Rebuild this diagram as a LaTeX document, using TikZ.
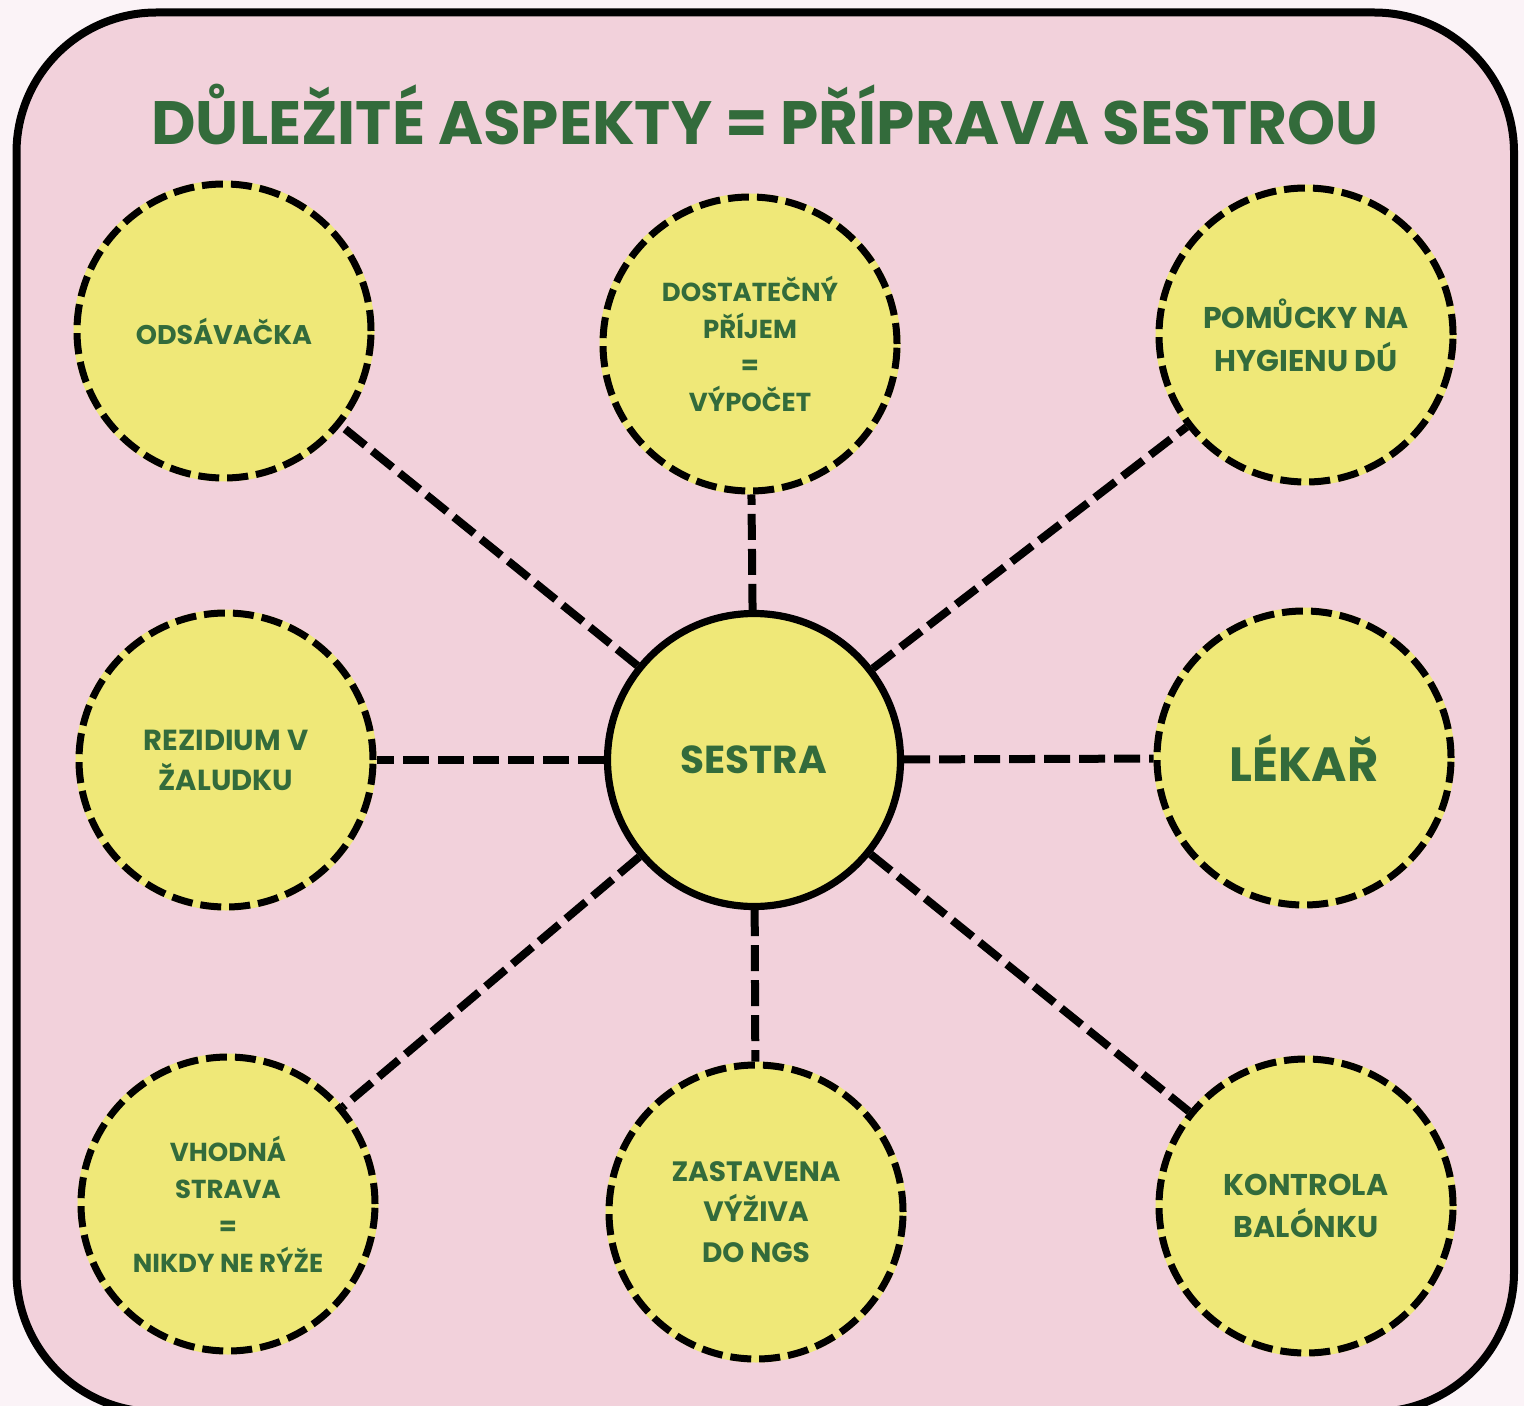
\documentclass[tikz,border=0pt]{standalone}
\usepackage{fontspec}
\setmainfont{Poppins}
\usepackage{tikz}
\usetikzlibrary{positioning}
\definecolor{pagebg}{HTML}{FBF3F7}
\definecolor{pinkbg}{HTML}{F2D1DB}
\definecolor{circfill}{HTML}{EFE878}
\definecolor{textgreen}{HTML}{336B3B}

\begin{document}
\begin{tikzpicture}[x=0.5pt,y=-0.5pt,line join=round,
    aspect/.style={circle,draw=black,fill=circfill,line width=3.5pt,dash pattern=on 10.5pt off 4pt,
      minimum size=147pt,inner sep=0pt,align=center,text=textgreen,
      font=\bfseries\fontsize{13.5}{18.5}\selectfont,
      preaction={draw=circfill,solid,line width=3.5pt}},
    hub/.style={circle,draw=black,fill=circfill,line width=3.6pt,minimum size=146.5pt,
      inner sep=0pt,text=textgreen,font=\bfseries\fontsize{19.5}{24}\selectfont},
    link/.style={line width=4pt,dash pattern=on 13pt off 4.5pt},
    heading/.style={text=textgreen,font=\bfseries\fontsize{30.6}{36}\selectfont,inner sep=0pt}]
    \useasboundingbox (0,0) rectangle (1524,1406);
    \clip (0,0) rectangle (1524,1406);
    \fill[pagebg] (0,0) rectangle (1524,1406);
    \draw[line width=4pt,fill=pinkbg,rounded corners=70pt] (16.5,12.5) rectangle (1514,1412);
    \node[heading,anchor=base] (title) at (765,145) {DŮLEŽITÉ ASPEKTY = PŘÍPRAVA SESTROU};

    \node[hub] (sestra) at (754,760) {SESTRA};
    \node[aspect] (odsavacka) at (224,331) {ODSÁVAČKA};
    \node[aspect,font=\bfseries\fontsize{13}{18.2}\selectfont] (prijem) at (750,344) {DOSTATEČNÝ\\PŘÍJEM\\=\\VÝPOČET};
    \node[aspect,font=\bfseries\fontsize{15}{21.5}\selectfont] (pomucky) at (1306,335) {POMŮCKY NA\\HYGIENU DÚ};
    \node[aspect,font=\bfseries\fontsize{14.5}{20}\selectfont] (rezidium) at (226,760) {REZIDIUM V\\ŽALUDKU};
    \node[aspect,font=\bfseries\fontsize{24}{30}\selectfont] (lekar) at (1304,758) {LÉKAŘ};
    \node[aspect,font=\bfseries\fontsize{13}{18.5}\selectfont] (strava) at (228,1204) {VHODNÁ\\STRAVA\\=\\NIKDY NE RÝŽE};
    \node[aspect,font=\bfseries\fontsize{14}{20.2}\selectfont] (vyziva) at (756,1212) {ZASTAVENA\\VÝŽIVA\\DO NGS};
    \node[aspect,font=\bfseries\fontsize{15}{21}\selectfont] (balonek) at (1306,1206) {KONTROLA\\BALÓNKU};

    \foreach \n in {odsavacka,prijem,pomucky,rezidium,lekar,strava,vyziva,balonek}
    \draw[link] (sestra) -- (\n);
  \end{tikzpicture}
\end{document}
